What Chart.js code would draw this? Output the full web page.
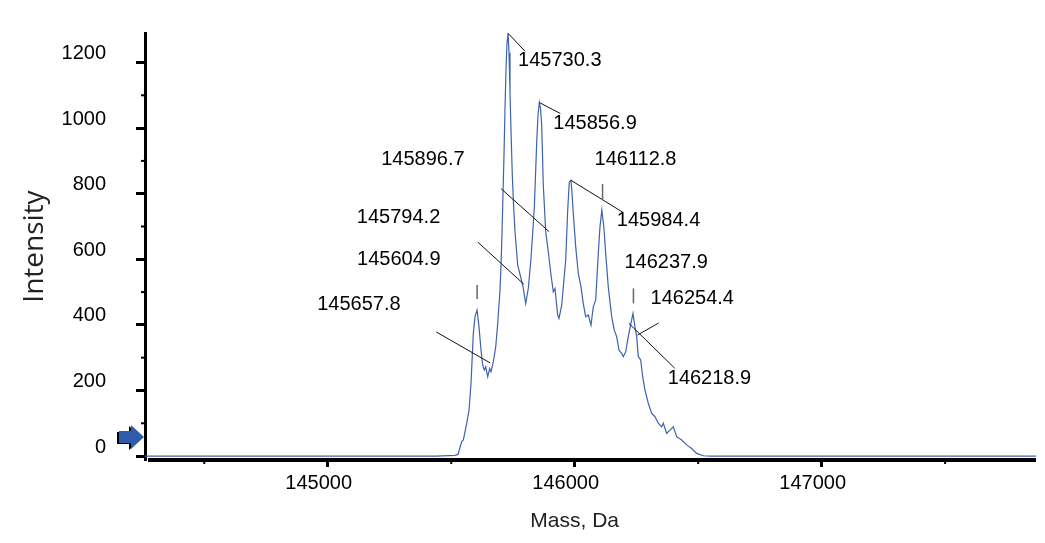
<!DOCTYPE html>
<html>
<head>
<meta charset="utf-8">
<script src="https://cdn.jsdelivr.net/npm/chart.js@4.4.1/dist/chart.umd.min.js"></script>
<style>
  html, body { margin: 0; padding: 0; background: #fff; }
  #spectrum { display: block; }
</style>
</head>
<body>
<canvas id="spectrum" width="1045" height="543"></canvas>
<script>
// =============================================
// DATA
// =============================================

const massDa = [
    144260, 145440, 145515, 145527.5, 145542.5, 145549, 145562.8, 145572.1, 145580.2, 145589.5,
    145596.4, 145604.5, 145612.5, 145620.6, 145627.5, 145634, 145639.7, 145647.8, 145655.9, 145661.1,
    145670.4, 145680.2, 145688.3, 145697.6, 145701.6, 145705.7, 145709.7, 145713.8, 145717.8, 145721.9,
    145725.9, 145730.3, 145734, 145738, 145742.1, 145747.4, 145752.2, 145758.3, 145769.2, 145782.6,
    145791.9, 145801.6, 145812.1, 145823.1, 145836.4, 145846.2, 145851.4, 145856.9, 145861.5, 145866.4,
    145872.9, 145882.6, 145893.1, 145904.1, 145913.4, 145920.2, 145931.2, 145936.4, 145947.4, 145953.9,
    145963.6, 145971.7, 145978.1, 145984.4, 145988, 145994.3, 146004.1, 146014.6, 146025.5, 146034.8,
    146044.5, 146055.1, 146066, 146075.3, 146085, 146095.6, 146102.4, 146110, 146118, 146125.5,
    146136, 146149.8, 146160.3, 146170, 146179.4, 146190.3, 146196.8, 146206.5, 146217, 146228,
    146236, 146244.1, 146251, 146257.5, 146267.2, 146275.3, 146284.6, 146298, 146311.7, 146325.1,
    146338.5, 146352.2, 146358.7, 146372.5, 146385.8, 146399.2, 146413, 146433.2, 146453.4, 146473.7,
    146493.9, 146520.6, 146547.8, 147868
];

const intensity = [
    0, 0, 2, 5, 44, 49, 100, 140, 222, 375,
    425, 445, 394, 323, 277, 262, 272, 242, 267, 257,
    287, 333, 405, 506, 580, 680, 800, 920, 1060, 1180,
    1260, 1289, 1230, 1111, 990, 857, 770, 684, 582, 542,
    511, 465, 511, 603, 755, 958, 1040, 1078, 1060, 1009,
    826, 684, 623, 552, 501, 511, 430, 420, 460, 516,
    598, 750, 836, 841, 815, 740, 638, 557, 516, 465,
    425, 430, 399, 455, 476, 618, 699, 750, 699, 618,
    516, 425, 384, 364, 323, 313, 303, 318, 364, 405,
    435, 394, 364, 303, 293, 242, 201, 161, 130, 120,
    100, 89, 100, 69, 79, 89, 59, 49, 34, 23,
    8, 1, 0, 0
];

const xTicks = [145000, 146000, 147000];
const xMinorTicks = [144500, 145500, 146500, 147500];
const yTicks = [0, 200, 400, 600, 800, 1000, 1200];
const yMinorTicks = [100, 300, 500, 700, 900, 1100];

// peak annotations
const peakLabels = ['145730.3', '145856.9', '145984.4', '146112.8', '146237.9', '146254.4',
    '146218.9', '145604.9', '145657.8', '145794.2', '145896.7'];
const peakMass = [145730.3, 145856.9, 145984.4, 146112.8, 146237.9, 146254.4,
    146218.9, 145604.9, 145657.8, 145794.2, 145896.7];
const peakIntensity = [1289, 1078, 841, 750, 435, 369, 405, 445, 284, 524, 684];

// marker on the intensity axis
const thresholdLevel = 58;

// label placement, px relative to the peak (kept apart from the data)
// line: leader from peak to (a, b); tick: short vertical mark from b to a above peak
const labelLayout = [
    { kind: 'line', a: 17, b: 18, tx: 10, ty: 27 },
    { kind: 'line', a: 21, b: 11, tx: 14, ty: 21 },
    { kind: 'line', a: 52, b: 32, tx: 46, ty: 40 },
    { kind: 'tick', a: -26, b: -10, tx: -8, ty: -51 },
    { kind: 'tick', a: -25, b: -10, tx: -9, ty: -51 },
    { kind: 'line', a: 21, b: -12, tx: 13, ty: -37 },
    { kind: 'line', a: 46, b: 45, tx: 39, ty: 55 },
    { kind: 'tick', a: -25, b: -11, tx: -120, ty: -51 },
    { kind: 'line', a: -54, b: -31, tx: -173, ty: -58 },
    { kind: 'line', a: -46, b: -42, tx: -167, ty: -67 },
    { kind: 'line', a: -48, b: -43, tx: -168, ty: -72 }
];

const LABEL_FONT = '20px "Liberation Sans", Arial, sans-serif';

// =============================================
// EXTRA DRAWING (axis line, minor ticks, labels)
// =============================================

function drawArrow(ctx, tx, ty) {
    ctx.beginPath();
    ctx.moveTo(tx, ty);
    ctx.lineTo(tx - 13, ty - 12);
    ctx.lineTo(tx - 13, ty - 6);
    ctx.lineTo(tx - 25, ty - 6);
    ctx.lineTo(tx - 25, ty + 6);
    ctx.lineTo(tx - 13, ty + 6);
    ctx.lineTo(tx - 13, ty + 12);
    ctx.closePath();
    ctx.fill();
}

const spectrumDecor = {
    id: 'spectrumDecor',
    afterDatasetsDraw(chart) {
        const { ctx, chartArea, scales: { x, y } } = chart;
        ctx.save();

        // x axis line, starts a little right of the y axis
        ctx.strokeStyle = '#000';
        ctx.lineWidth = 4;
        ctx.beginPath();
        ctx.moveTo(chartArea.left + 3, chartArea.bottom);
        ctx.lineTo(chartArea.right, chartArea.bottom);
        ctx.stroke();

        // minor ticks
        ctx.lineWidth = 2;
        xMinorTicks.forEach(v => {
            const px = x.getPixelForValue(v);
            ctx.beginPath();
            ctx.moveTo(px, chartArea.bottom);
            ctx.lineTo(px, chartArea.bottom + 4);
            ctx.stroke();
        });
        yMinorTicks.forEach(v => {
            const py = y.getPixelForValue(v);
            ctx.beginPath();
            ctx.moveTo(chartArea.left - 4, py);
            ctx.lineTo(chartArea.left, py);
            ctx.stroke();
        });

        // peak labels
        ctx.font = LABEL_FONT;
        ctx.textBaseline = 'middle';
        ctx.textAlign = 'left';
        peakLabels.forEach((txt, i) => {
            const px = x.getPixelForValue(peakMass[i]);
            const py = y.getPixelForValue(peakIntensity[i]);
            const l = labelLayout[i];
            ctx.beginPath();
            if (l.kind === 'tick') {
                ctx.strokeStyle = '#666';
                ctx.lineWidth = 1.5;
                ctx.moveTo(px, py + l.a);
                ctx.lineTo(px, py + l.b);
            } else {
                ctx.strokeStyle = '#111';
                ctx.lineWidth = 1;
                ctx.moveTo(px, py);
                ctx.lineTo(px + l.a, py + l.b);
            }
            ctx.stroke();
            ctx.fillStyle = '#000';
            ctx.fillText(txt, px + l.tx, py + l.ty);
        });

        // x axis title, sits under the middle tick
        ctx.font = '21px "Liberation Sans", Arial, sans-serif';
        ctx.textAlign = 'center';
        ctx.fillStyle = '#222';
        ctx.fillText('Mass, Da', x.getPixelForValue(xTicks[1]), chartArea.bottom + 61);

        // threshold arrow on the y axis
        const ay = y.getPixelForValue(thresholdLevel);
        ctx.fillStyle = '#000';
        drawArrow(ctx, chartArea.left - 3, ay + 1);
        ctx.fillStyle = '#2f5bab';
        drawArrow(ctx, chartArea.left - 1, ay);

        ctx.restore();
    }
};

// =============================================
// CHART
// =============================================

const ctx = document.getElementById('spectrum');

new Chart(ctx, {
    type: 'line',
    data: {
        datasets: [{
            label: 'Intensity',
            data: massDa.map((m, i) => ({ x: m, y: intensity[i] })),
            borderColor: '#3d63ae',
            backgroundColor: 'transparent',
            borderWidth: 1.2,
            tension: 0,
            pointRadius: 0,
            fill: false
        }]
    },
    options: {
        responsive: false,
        animation: false,
        events: [],
        layout: {
            padding: { top: 33, right: 9, bottom: 0, left: 0 }
        },
        plugins: {
            legend: { display: false },
            tooltip: { enabled: false }
        },
        scales: {
            x: {
                type: 'linear',
                min: 144260,
                max: 147868,
                afterBuildTicks: scale => { scale.ticks = xTicks.map(v => ({ value: v })); },
                afterFit: scale => {
                    scale.height = 83;
                    scale.paddingLeft = 0;
                    scale.paddingRight = 0;
                },
                border: { display: false },
                grid: {
                    drawOnChartArea: false,
                    drawTicks: true,
                    tickLength: 7,
                    tickWidth: 3,
                    tickColor: '#000'
                },
                ticks: {
                    autoSkip: false,
                    maxRotation: 0,
                    labelOffset: -9,
                    padding: 4,
                    color: '#000',
                    font: { family: '"Liberation Sans", Arial, sans-serif', size: 20 },
                    callback: v => String(v)
                }
            },
            y: {
                type: 'linear',
                min: -12,
                max: 1290,
                afterBuildTicks: scale => { scale.ticks = yTicks.map(v => ({ value: v })); },
                afterFit: scale => {
                    scale.width = 145;
                    scale.paddingTop = 0;
                    scale.paddingBottom = 0;
                },
                border: { display: true, color: '#000', width: 3 },
                grid: {
                    drawOnChartArea: false,
                    drawTicks: true,
                    tickLength: 9,
                    tickWidth: 3,
                    tickColor: '#000'
                },
                title: {
                    display: true,
                    text: 'Intensity',
                    color: '#222',
                    font: { family: '"Open Sans", sans-serif', size: 28 },
                    padding: { top: 18, bottom: 0 }
                },
                ticks: {
                    labelOffset: -9,
                    padding: 30,
                    color: '#000',
                    font: { family: '"Liberation Sans", Arial, sans-serif', size: 20 },
                    callback: v => String(v)
                }
            }
        }
    },
    plugins: [spectrumDecor]
});
</script>
</body>
</html>
